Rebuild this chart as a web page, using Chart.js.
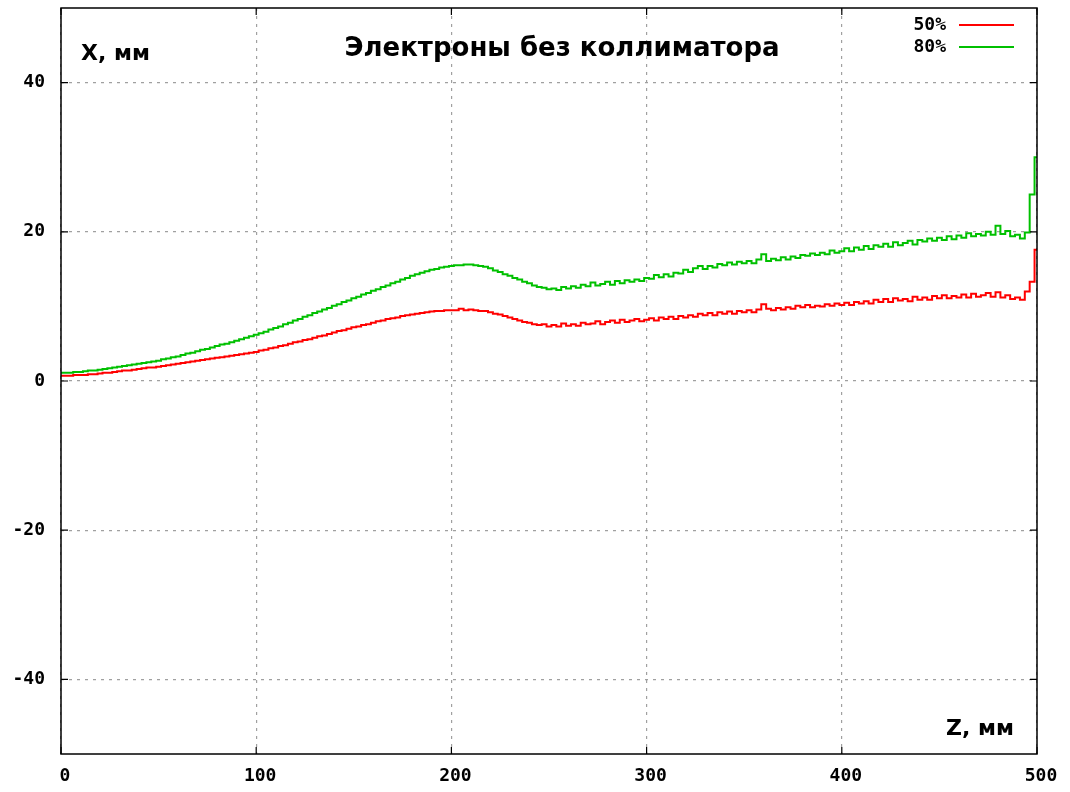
<!DOCTYPE html>
<html>
<head>
<meta charset="utf-8">
<script src="https://cdn.jsdelivr.net/npm/chart.js@4"></script>
<style>
  body { margin: 0; background: #fff; }
  canvas { display: block; }
</style>
</head>
<body>
<canvas id="myChart" width="1070" height="792"></canvas>
<script>
'use strict';

// z step of the histogram bins, mm
let zStep = 2.5;

// 50% level, X in mm, one value per bin from z = 0 to z = 500
let x50 = [
  0.7, 0.7, 0.7, 0.8, 0.8,
  0.8, 0.9, 0.9, 1.0,   1.1, 1.1, 1.2, 1.3,   1.4, 1.4, 1.5, 1.6,   1.7, 1.8, 1.8, 1.9,
  2.0, 2.1, 2.2, 2.3,   2.4, 2.5, 2.6, 2.7,   2.8, 2.9, 3.0, 3.1,   3.2, 3.3, 3.4, 3.5,
  3.6, 3.7, 3.8, 3.9,   4.1, 4.2, 4.4, 4.5,   4.7, 4.8, 5.0, 5.2,   5.3, 5.5, 5.6, 5.8,
  6.0, 6.1, 6.3, 6.5,   6.7, 6.8, 7.0, 7.2,   7.3, 7.5, 7.6, 7.8,   8.0, 8.1, 8.3, 8.4,
  8.5, 8.7, 8.8, 8.9,   9.0, 9.1, 9.2, 9.3,   9.4, 9.4, 9.5, 9.5,   9.5, 9.7, 9.5, 9.6,
  9.5, 9.4, 9.4, 9.2,   9.0, 8.9, 8.7, 8.5,   8.3, 8.1, 7.9, 7.8,   7.6, 7.5, 7.6, 7.3,
  7.5, 7.3, 7.7, 7.4,   7.6, 7.4, 7.8, 7.6,   7.7, 8.0, 7.6, 7.9,   8.1, 7.8, 8.2, 7.9,
  8.1, 8.3, 8.0, 8.2,   8.4, 8.1, 8.5, 8.3,   8.6, 8.3, 8.7, 8.5,   8.8, 8.6, 9.0, 8.8,
  9.1, 8.8, 9.2, 9.0,   9.3, 9.0, 9.4, 9.2,   9.5, 9.2, 9.6, 10.3,  9.7, 9.5, 9.8, 9.6,
  9.9, 9.7, 10.1, 9.9,  10.2, 9.9, 10.1, 10.0, 10.3, 10.1, 10.4, 10.2, 10.5, 10.2, 10.6, 10.4,
  10.7, 10.4, 10.9, 10.6, 11.0, 10.6, 11.1, 10.8, 11.0, 10.7, 11.3, 10.9, 11.2, 10.9, 11.4, 11.1,
  11.5, 11.1, 11.4, 11.2, 11.6, 11.2, 11.7, 11.3, 11.5, 11.8, 11.3, 11.9, 11.2, 11.5, 11.0, 11.2,
  10.9, 12.0, 13.3, 17.6
];

// 80% level
let x80 = [
  1.1, 1.1, 1.1, 1.2, 1.2,
  1.3, 1.4, 1.4, 1.5,   1.6, 1.7, 1.8, 1.9,   2.0, 2.1, 2.2, 2.3,   2.4, 2.5, 2.6, 2.7,
  2.9, 3.0, 3.2, 3.3,   3.5, 3.7, 3.8, 4.0,   4.2, 4.3, 4.5, 4.7,   4.9, 5.0, 5.2, 5.4,
  5.6, 5.8, 6.0, 6.2,   6.4, 6.6, 6.9, 7.1,   7.3, 7.6, 7.8, 8.1,   8.3, 8.6, 8.8, 9.1,
  9.3, 9.6, 9.8, 10.1,  10.3, 10.6, 10.8, 11.1, 11.3, 11.6, 11.8, 12.1, 12.3, 12.6, 12.8, 13.1,
  13.3, 13.6, 13.8, 14.1, 14.3, 14.5, 14.7, 14.9, 15.0, 15.2, 15.3, 15.4, 15.5, 15.5, 15.6, 15.6,
  15.5, 15.4, 15.3, 15.1, 14.8, 14.6, 14.3, 14.1, 13.8, 13.6, 13.3, 13.1, 12.8, 12.6, 12.5, 12.3,
  12.4, 12.2, 12.6, 12.4, 12.7, 12.5, 12.9, 12.7, 13.2, 12.8, 13.0, 13.3, 12.9, 13.4, 13.1, 13.5,
  13.3, 13.6, 13.4, 13.8, 13.7, 14.2, 13.9, 14.3, 14.0, 14.5, 14.4, 14.9, 14.6, 15.1, 15.4, 15.0,
  15.4, 15.2, 15.7, 15.5, 15.9, 15.6, 16.0, 15.8, 16.1, 15.8, 16.3, 17.0, 16.1, 16.4, 16.2, 16.6,
  16.3, 16.7, 16.5, 16.9, 16.8, 17.1, 16.9, 17.2, 17.0, 17.5, 17.2, 17.4, 17.8, 17.4, 17.9, 17.6,
  18.1, 17.7, 18.2, 18.0, 18.4, 18.0, 18.6, 18.2, 18.5, 18.8, 18.3, 18.9, 18.7, 19.1, 18.8, 19.2,
  18.9, 19.4, 19.0, 19.5, 19.2, 19.8, 19.4, 19.7, 19.5, 20.0, 19.6, 20.8, 19.7, 20.1, 19.4, 19.6,
  19.1, 19.9, 25.0, 30.0
];

let xTicks = [0, 100, 200, 300, 400, 500];
let yTicks = [-40, -20, 0, 20, 40];
let seriesNames = ['50%', '80%'];
let seriesColors = ['#ff0000', '#00c000'];
let titleText = 'Электроны без коллиматора';
let yAxisTitle = 'X, мм';
let xAxisTitle = 'Z, мм';

function toPoints(values) {
  let pts = [];
  for (let i = 0; i < values.length; i++) {
    pts.push({ x: i * zStep, y: values[i] });
  }
  return pts;
}

let monoFont = 'bold 18px "DejaVu Sans Mono", "Liberation Mono", monospace';
let titleFont = 'bold 26px "DejaVu Sans", Verdana, sans-serif';
let labelFont = 'bold 22px "DejaVu Sans", Verdana, sans-serif';

// texts, legend and the inner tick marks, gnuplot style
let decorations = {
  id: 'decorations',
  afterDraw(chart) {
    let ctx = chart.ctx;
    let a = chart.chartArea;
    let xs = chart.scales.x;
    let ys = chart.scales.y;
    ctx.save();

    ctx.strokeStyle = '#000';
    ctx.lineWidth = 1.5;
    ctx.strokeRect(a.left, a.top, a.right - a.left, a.bottom - a.top);

    ctx.lineWidth = 1.2;
    ctx.beginPath();
    xTicks.forEach(v => {
      let px = xs.getPixelForValue(v);
      ctx.moveTo(px, a.bottom); ctx.lineTo(px, a.bottom - 7);
      ctx.moveTo(px, a.top); ctx.lineTo(px, a.top + 7);
    });
    yTicks.forEach(v => {
      let py = ys.getPixelForValue(v);
      ctx.moveTo(a.left, py); ctx.lineTo(a.left + 7, py);
      ctx.moveTo(a.right, py); ctx.lineTo(a.right - 7, py);
    });
    ctx.stroke();

    ctx.fillStyle = '#000';
    ctx.textBaseline = 'alphabetic';
    ctx.font = titleFont;
    ctx.textAlign = 'center';
    ctx.fillText(titleText, 562, 56);
    ctx.font = labelFont;
    ctx.textAlign = 'left';
    ctx.fillText(yAxisTitle, 81, 60);
    ctx.textAlign = 'right';
    ctx.fillText(xAxisTitle, 1014, 735);

    ctx.font = monoFont;
    ctx.textBaseline = 'middle';
    let legendY = [25, 47];
    for (let i = 0; i < seriesNames.length; i++) {
      ctx.fillStyle = '#000';
      ctx.textAlign = 'right';
      ctx.fillText(seriesNames[i], 946, legendY[i]);
      ctx.strokeStyle = seriesColors[i];
      ctx.lineWidth = 1.8;
      ctx.beginPath();
      ctx.moveTo(959, legendY[i]);
      ctx.lineTo(1014, legendY[i]);
      ctx.stroke();
    }
    ctx.restore();
  }
};

function noEdgePadding(scale) {
  scale.paddingTop = 0;
  scale.paddingBottom = 0;
  scale.paddingLeft = 0;
  scale.paddingRight = 0;
}

let ctx = document.getElementById('myChart').getContext('2d');

let myChart = new Chart(ctx, {
  type: 'line',
  data: {
    datasets: [
      {
        label: seriesNames[0],
        data: toPoints(x50),
        borderColor: seriesColors[0],
        borderWidth: 2,
        stepped: 'middle',
        pointRadius: 0,
        fill: false
      },
      {
        label: seriesNames[1],
        data: toPoints(x80),
        borderColor: seriesColors[1],
        borderWidth: 2,
        stepped: 'middle',
        pointRadius: 0,
        fill: false
      }
    ]
  },
  options: {
    responsive: false,
    animation: false,
    devicePixelRatio: 1,
    layout: { padding: { left: 0, right: 33, top: 8, bottom: 0 } },
    plugins: {
      legend: { display: false },
      title: { display: false },
      tooltip: { enabled: false }
    },
    scales: {
      x: {
        type: 'linear',
        min: 0,
        max: 500,
        afterBuildTicks: scale => { scale.ticks = xTicks.map(v => ({ value: v })); },
        afterFit: scale => { scale.height = 38; noEdgePadding(scale); },
        ticks: {
          color: '#000',
          font: { family: '"DejaVu Sans Mono", monospace', size: 18, weight: 'bold' },
          padding: 12,
          labelOffset: 4,
          maxRotation: 0
        },
        grid: { color: '#a0a0a0', lineWidth: 1.2, drawTicks: false },
        border: { display: false, dash: [3, 5] }
      },
      y: {
        type: 'linear',
        min: -50,
        max: 50,
        afterBuildTicks: scale => { scale.ticks = yTicks.map(v => ({ value: v })); },
        afterFit: scale => { scale.width = 61; noEdgePadding(scale); },
        ticks: {
          color: '#000',
          font: { family: '"DejaVu Sans Mono", monospace', size: 18, weight: 'bold' },
          padding: 16
        },
        grid: { color: '#a0a0a0', lineWidth: 1.2, drawTicks: false },
        border: { display: false, dash: [3, 5] }
      }
    }
  },
  plugins: [decorations]
});
</script>
</body>
</html>
